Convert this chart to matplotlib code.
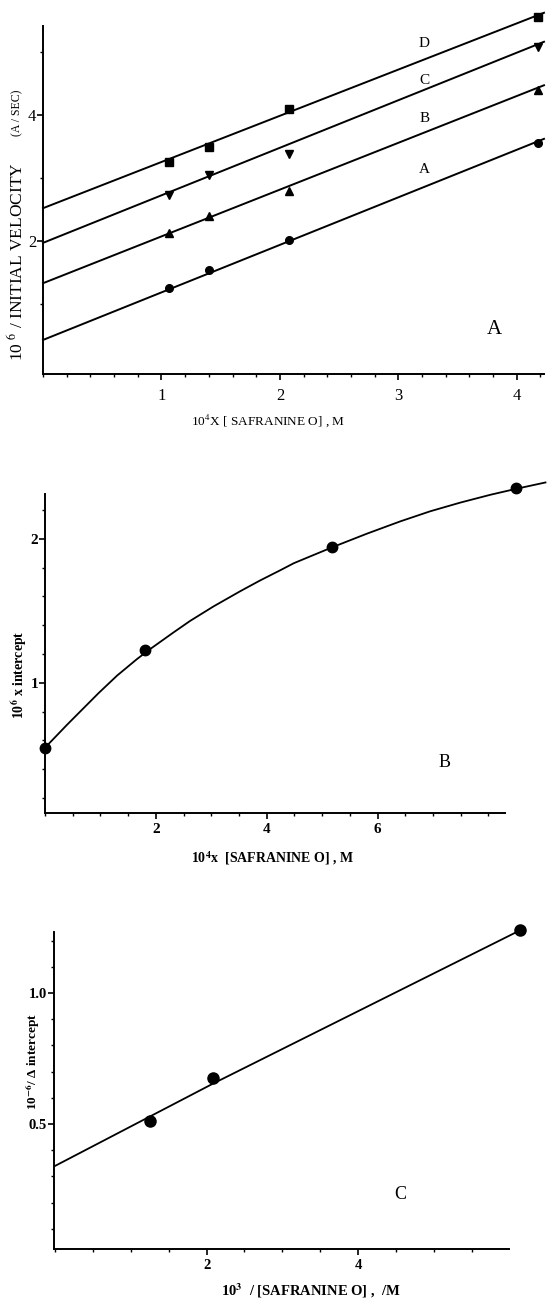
import matplotlib
matplotlib.use("Agg")
import matplotlib.pyplot as plt
from matplotlib.ticker import MultipleLocator, FixedLocator, FormatStrFormatter

plt.rcParams['font.family'] = ['Liberation Serif', 'DejaVu Serif']
plt.rcParams['mathtext.fontset'] = 'stix'

W, H = 550, 1302

# ---- panel A: 1/v vs [safranine O] at four fixed conditions ----
conc_a = [1.06, 1.40, 2.08, 4.18]
vel_A = [1.25, 1.54, 2.02, 3.56]
vel_B = [2.13, 2.40, 2.79, 4.40]
vel_C = [2.73, 3.05, 3.38, 5.08]
vel_D = [3.25, 3.49, 4.10, 5.56]
fit_x = [0.0, 4.23]
fit_A = [0.43, 3.62]
fit_B = [1.33, 4.47]
fit_C = [1.97, 5.16]
fit_D = [2.52, 5.62]
series_names = ['A', 'B', 'C', 'D']
series_markers = ['o', '^', 'v', 's']
label_pos_y = [3.13, 3.95, 4.55, 5.14]

# ---- panel B: intercept replot ----
conc_b = [0.0, 1.81, 5.18, 8.49]
icpt_b = [0.55, 1.23, 1.94, 2.35]
curve_bx = [0.0, 0.40, 0.97, 1.30, 1.66, 1.90, 2.32, 2.62, 3.04, 3.52, 3.88,
            4.24, 4.49, 5.18, 5.81, 6.41, 6.95, 7.49, 8.04, 8.49, 9.03]
curve_by = [0.55, 0.71, 0.93, 1.05, 1.165, 1.235, 1.35, 1.43, 1.53, 1.635, 1.71,
            1.78, 1.83, 1.94, 2.035, 2.12, 2.19, 2.25, 2.305, 2.345, 2.39]

# ---- panel C: reciprocal replot ----
inv_c = [1.25, 2.09, 6.14]
icpt_c = [0.51, 0.675, 1.24]
line_cx = [0.0, 2.09, 6.14]
line_cy = [0.34, 0.655, 1.24]


def px_axes(fig, left, right, top, bottom):
    return fig.add_axes([left / W, 1 - bottom / H, (right - left) / W, (bottom - top) / H])


def ftext(fig, x, y, s, **kw):
    fig.text(x / W, 1 - y / H, s, ha='center', va='center', **kw)


def style(ax, weight='normal', size=12, xpad=2, ypad=2):
    for s in ['top', 'right']:
        ax.spines[s].set_visible(False)
    for s in ['left', 'bottom']:
        ax.spines[s].set_linewidth(1.4)
    ax.tick_params(which='major', direction='out', length=4, width=1.2, labelsize=size)
    ax.tick_params(which='minor', direction='out', length=2.5, width=1.0)
    ax.tick_params(axis='x', pad=xpad)
    ax.tick_params(axis='y', pad=ypad)
    for lab in ax.get_xticklabels() + ax.get_yticklabels():
        lab.set_fontweight(weight)


fig = plt.figure(figsize=(W / 100, H / 100), dpi=100)

# panel A
axA = px_axes(fig, 43, 544, 26, 374)
axA.set_xlim(0, 4.23)
axA.set_ylim(-0.11, 5.41)
fits = [fit_A, fit_B, fit_C, fit_D]
vels = [vel_A, vel_B, vel_C, vel_D]
for name, mk, fy, vy, ly in zip(series_names, series_markers, fits, vels, label_pos_y):
    axA.plot(fit_x, fy, color='black', lw=1.4, clip_on=False)
    axA.plot(conc_a, vy, linestyle='none', marker=mk, ms=5.5, color='black', clip_on=False)
    axA.text(3.22, ly, name, fontsize=11, ha='center', va='center')
axA.text(3.81, 0.59, 'A', fontsize=15, ha='center', va='center')
axA.xaxis.set_major_locator(FixedLocator([1, 2, 3, 4]))
axA.xaxis.set_minor_locator(MultipleLocator(0.2))
axA.yaxis.set_major_locator(FixedLocator([2, 4]))
axA.yaxis.set_minor_locator(FixedLocator([1, 3, 5]))
style(axA, size=12, xpad=6, ypad=1)
ftext(fig, 17, 262, r'10 $^6$ / INITIAL VELOCITY', rotation=90, fontsize=12.5)
ftext(fig, 17, 113, '(A / SEC)', rotation=90, fontsize=8.5)
ftext(fig, 268, 421, r'10$^4$X [ SAFRANINE O] , M', fontsize=9.5)

# panel B
axB = px_axes(fig, 45, 505, 494, 813)
axB.set_xlim(0, 8.3)
axB.set_ylim(0.097, 2.31)
axB.plot(curve_bx, curve_by, color='black', lw=1.3, clip_on=False)
axB.plot(conc_b, icpt_b, linestyle='none', marker='o', ms=7.5, color='black', clip_on=False)
axB.text(7.2, 0.45, 'B', fontsize=13, ha='center', va='center')
axB.xaxis.set_major_locator(FixedLocator([2, 4, 6]))
axB.xaxis.set_minor_locator(MultipleLocator(0.5))
axB.yaxis.set_major_locator(FixedLocator([1, 2]))
axB.yaxis.set_minor_locator(MultipleLocator(0.2))
style(axB, weight='bold', size=11, xpad=3, ypad=1)
ftext(fig, 19, 675, r'10$^{\mathbf{6}}$ x intercept', rotation=90, fontsize=10, fontweight='bold')
ftext(fig, 272, 858, r'10$^{\mathbf{4}}$x  [SAFRANINE O] , M', fontsize=10, fontweight='bold')

# panel C
axC = px_axes(fig, 54, 509, 932, 1249)
axC.set_xlim(-0.013, 5.99)
axC.set_ylim(0.023, 1.233)
axC.plot(line_cx, line_cy, color='black', lw=1.3, clip_on=False)
axC.plot(inv_c, icpt_c, linestyle='none', marker='o', ms=8, color='black', clip_on=False)
axC.text(4.55, 0.23, 'C', fontsize=13, ha='center', va='center')
axC.xaxis.set_major_locator(FixedLocator([2, 4]))
axC.xaxis.set_minor_locator(MultipleLocator(0.5))
axC.yaxis.set_major_locator(FixedLocator([0.5, 1.0]))
axC.yaxis.set_minor_locator(MultipleLocator(0.1))
axC.yaxis.set_major_formatter(FormatStrFormatter('%.1f'))
style(axC, weight='bold', size=10.5, xpad=3, ypad=1)
ftext(fig, 33, 1062, r'10$^{\mathbf{-6}}$/ Δ intercept', rotation=90, fontsize=9.5, fontweight='bold')
ftext(fig, 311, 1291, r'10$^{\mathbf{3}}$  / [SAFRANINE O] ,  /M', fontsize=10.5, fontweight='bold')

fig.savefig('out.png', dpi=100)
